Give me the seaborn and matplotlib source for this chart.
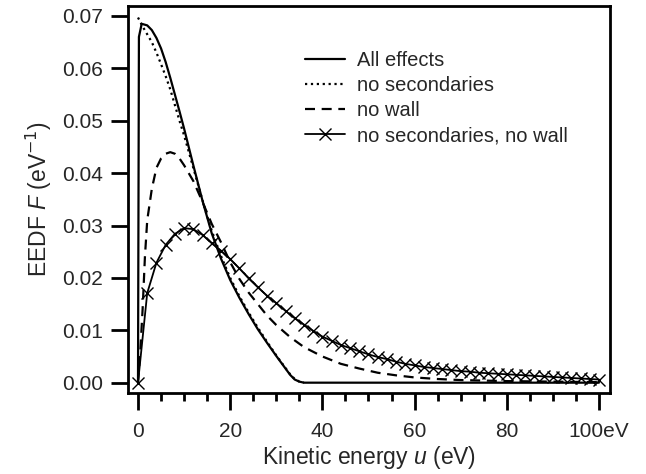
import matplotlib
matplotlib.use("Agg")
import matplotlib.pyplot as plt
import seaborn as sns
import numpy as np

# EEDF curves
u_all = [0, 0.2, 0.8, 2, 3, 4, 5, 6, 7, 8, 9, 10, 12, 14, 16, 18, 20, 22, 24, 26, 28, 30, 32, 33, 34, 35, 36,
         50, 70, 100]
F_all = [0, 0.066, 0.0685, 0.0682, 0.0673, 0.0658, 0.0638, 0.0612, 0.0582, 0.055, 0.0518, 0.0485, 0.0415,
         0.0347, 0.0285, 0.0237, 0.0196, 0.0162, 0.0131, 0.0102, 0.0076, 0.0051, 0.0027, 0.0015, 0.0006,
         0.0002, 0, 0, 0, 0]

u_nosec = [0, 1, 2, 3, 4, 5, 6, 7, 8, 9, 10, 12, 14, 15, 16, 18, 20, 22, 24, 26, 28, 30, 32, 33, 34, 35, 36]
F_nosec = [0.0697, 0.068, 0.0665, 0.065, 0.063, 0.0608, 0.0585, 0.056, 0.053, 0.050, 0.0472, 0.041, 0.0348,
           0.0318, 0.029, 0.0242, 0.0200, 0.0165, 0.0134, 0.0105, 0.0078, 0.0052, 0.0028, 0.0016, 0.0007,
           0.0002, 0]

u_nowall = [0, 0.5, 1, 1.5, 2, 3, 4, 5, 6, 7, 8, 9, 10, 12, 14, 16, 18, 20, 22, 24, 26, 28, 30, 33, 36, 40,
            44, 48, 52, 56, 60, 65, 70, 75, 80, 90, 100]
F_nowall = [0, 0.006, 0.014, 0.024, 0.031, 0.037, 0.041, 0.0428, 0.0437, 0.0440, 0.0437, 0.0428, 0.0415,
            0.0385, 0.0345, 0.0303, 0.0268, 0.0230, 0.0198, 0.0172, 0.0150, 0.0128, 0.0110, 0.0087, 0.0068,
            0.0050, 0.0036, 0.0027, 0.0019, 0.0014, 0.0010, 0.0007, 0.0005, 0.0004, 0.0003, 0.0002, 0.0001]

u_none = list(range(0, 101, 2))
F_none = [0, 0.0171, 0.0229, 0.0263, 0.0284, 0.0295, 0.0293, 0.0282, 0.0266, 0.0252, 0.0236, 0.0218, 0.0199,
          0.0182, 0.0166, 0.0152, 0.0137, 0.0123, 0.0111, 0.0099, 0.0088, 0.0080, 0.0072, 0.0066, 0.0060,
          0.0054, 0.0049, 0.0045, 0.0040, 0.0036, 0.0033, 0.0030, 0.0028, 0.0026, 0.0024, 0.0022, 0.0021,
          0.0019, 0.0018, 0.0017, 0.0016, 0.0015, 0.0014, 0.0013, 0.0012, 0.0011, 0.0010, 0.0009, 0.0008,
          0.0007, 0.0006]

x_ticks = [0, 20, 40, 60, 80, 100]
x_ticklabels = ["0", "20", "40", "60", "80", "100eV"]
y_ticks = [0.00, 0.01, 0.02, 0.03, 0.04, 0.05, 0.06, 0.07]

sns.set_theme(style="ticks")
plt.rcParams["font.family"] = ["Liberation Sans", "DejaVu Sans"]
plt.rcParams["mathtext.fontset"] = "custom"
plt.rcParams["mathtext.rm"] = "Liberation Sans"
plt.rcParams["mathtext.it"] = "Liberation Sans:italic"

fig = plt.figure(figsize=(6.46, 4.74), dpi=100)
ax = fig.add_axes([128 / 646, 81 / 474, 482 / 646, 387 / 474])

sns.lineplot(x=u_all, y=F_all, ax=ax, color="black", lw=1.6, label="All effects")
sns.lineplot(x=u_nosec, y=F_nosec, ax=ax, color="black", lw=1.6, linestyle=":", label="no secondaries")
sns.lineplot(x=u_nowall, y=F_nowall, ax=ax, color="black", lw=1.6, dashes=(4.5, 3), label="no wall")
sns.lineplot(x=u_none, y=F_none, ax=ax, color="black", lw=1.3, marker="x", markersize=9,
             markeredgewidth=1.0, markeredgecolor="black", label="no secondaries, no wall")

ax.set_xlim(-2.17, 102.4)
ax.set_ylim(-0.00197, 0.0719)
ax.set_xticks(x_ticks)
ax.set_xticklabels(x_ticklabels)
minor = np.arange(5, 100, 5)
ax.set_xticks(minor[minor % 20 != 0], minor=True)
ax.set_yticks(y_ticks)
ax.set_yticklabels([f"{v:.2f}" for v in y_ticks])

for s in ax.spines.values():
    s.set_linewidth(2)
    s.set_color("black")
ax.tick_params(axis="both", which="major", length=12, width=2, labelsize=15, color="black")
ax.tick_params(axis="x", which="major", pad=9)
ax.tick_params(axis="y", which="major", pad=6)
ax.tick_params(axis="x", which="minor", length=6, width=2, color="black")

ax.set_xlabel("Kinetic energy $u$ (eV)", fontsize=16.5, labelpad=2)
ax.set_ylabel("EEDF $F$ (eV$^{\\mathsf{-1}}$)", fontsize=16.5, labelpad=6)

ax.legend(loc="upper left", bbox_to_anchor=(0.367, 0.884), frameon=False, fontsize=14.5,
          handlelength=2.0, handletextpad=0.6, labelspacing=0.3, borderpad=0, borderaxespad=0)

fig.savefig("out.png", dpi=100)
